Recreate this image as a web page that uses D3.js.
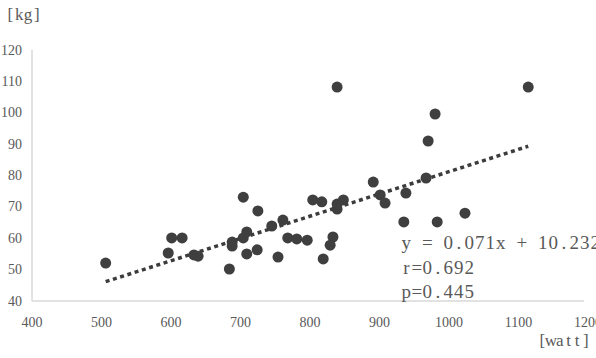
<!DOCTYPE html>
<html>
<head>
<meta charset="utf-8">
<script src="https://cdn.jsdelivr.net/npm/d3@7"></script>
<style>
  body { margin: 0; background: #fff; }
  svg { display: block; }
  svg text { font-family: "Liberation Serif", "Times New Roman", serif; }
</style>
</head>
<body>
<svg id="chart" width="596" height="358"></svg>
<script>
// power output [watt] vs body weight [kg]
var power  = [506, 596, 601, 616, 633, 639, 684, 688, 688, 704, 704, 709, 709, 724,
              725, 745, 754, 761, 768, 781, 796, 804, 817, 819, 829, 833, 839, 839,
              839, 848, 891, 901, 908, 935, 938, 967, 970, 980, 983, 1023, 1114];
var weight = [52.1, 55.3, 60.1, 60.1, 54.7, 54.3, 50.2, 58.8, 57.5, 73.1, 60.1, 62.0, 55.0, 56.3,
              68.7, 63.9, 54.0, 65.8, 60.1, 59.8, 59.4, 72.2, 71.6, 53.4, 57.8, 60.4, 108.2, 69.3,
              70.9, 72.2, 77.9, 73.8, 71.2, 65.2, 74.4, 79.2, 91.0, 99.6, 65.2, 68.0, 108.2];
var xTicks = [400, 500, 600, 700, 800, 900, 1000, 1100, 1200];
var yTicks = [40, 50, 60, 70, 80, 90, 100, 110, 120];
var slope = 0.071, intercept = 10.232;
var statLines = ["y = 0.071x + 10.232", "r=0.692", "p=0.445"];

var svg = d3.select("#chart");
var textColor = "#595959";

var x = d3.scaleLinear().domain([400, 1200]).range([32, 588]);
var y = d3.scaleLinear().domain([40, 120]).range([301, 50]);

// axis lines only, no tick marks or gridlines
svg.append("line")
  .attr("x1", x(400)).attr("x2", x(400))
  .attr("y1", y(120)).attr("y2", y(40))
  .attr("stroke", "#d9d9d9").attr("stroke-width", 1.5);
svg.append("line")
  .attr("x1", x(400)).attr("x2", x(1200) - 4)
  .attr("y1", y(40)).attr("y2", y(40))
  .attr("stroke", "#d9d9d9").attr("stroke-width", 1.5);

svg.append("g").selectAll("text")
  .data(yTicks).enter().append("text")
    .attr("x", 22)
    .attr("y", function(d) { return y(d) + 4.5; })
    .attr("text-anchor", "end")
    .attr("font-size", 14)
    .attr("fill", textColor)
    .text(function(d) { return d; });

svg.append("g").selectAll("text")
  .data(xTicks).enter().append("text")
    .attr("x", function(d) { return x(d); })
    .attr("y", 326.5)
    .attr("text-anchor", "middle")
    .attr("font-size", 14)
    .attr("fill", textColor)
    .text(function(d) { return d; });

// fixed-pitch text, one slot per character (mimics the half-width Mincho look)
function slotText(str, x0, step, baseline, size) {
  var chars = str.split("");
  svg.append("text")
    .attr("x", chars.map(function(c, i) { return (x0 + step * (i + 0.5)).toFixed(1); }).join(" "))
    .attr("y", baseline)
    .attr("text-anchor", "middle")
    .attr("font-size", size)
    .attr("fill", textColor)
    .text(str);
}

slotText("[kg]", 6, 8.8, 20, 17);
slotText("[watt]", 538, 8.7, 346, 17);

// trendline
var xExt = d3.extent(power);
svg.append("line")
  .attr("x1", x(xExt[0])).attr("y1", y(slope * xExt[0] + intercept))
  .attr("x2", x(xExt[1])).attr("y2", y(slope * xExt[1] + intercept))
  .attr("stroke", "#3c3c3c").attr("stroke-width", 3.5)
  .attr("stroke-dasharray", "4,3.6");

svg.append("g").selectAll("circle")
  .data(power).enter().append("circle")
    .attr("cx", function(d) { return x(d); })
    .attr("cy", function(d, i) { return y(weight[i]); })
    .attr("r", 5.5)
    .attr("fill", "#3f3f3f");

statLines.forEach(function(s, i) {
  slotText(s, 401, 10.5, 249 + i * 24.5, 19);
});
</script>
</body>
</html>
